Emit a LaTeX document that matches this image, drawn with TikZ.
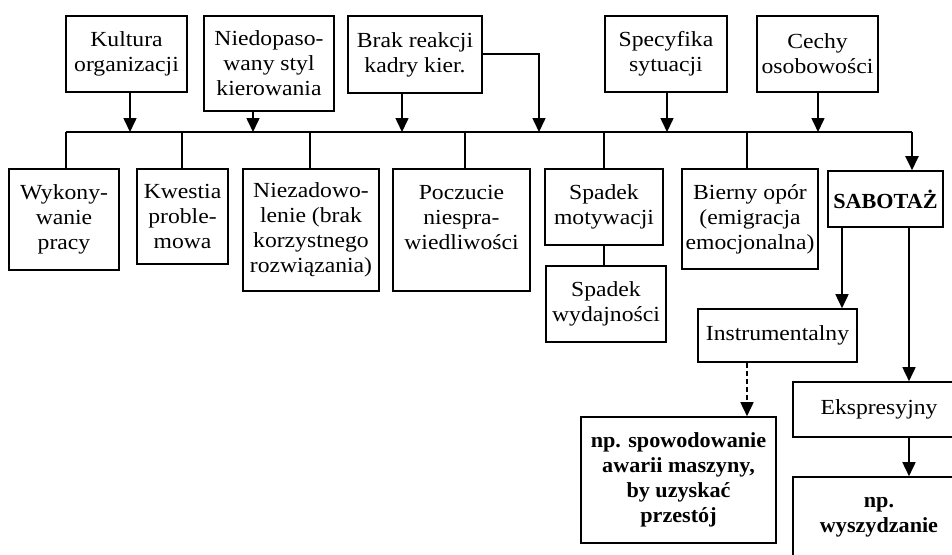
\documentclass[tikz,border=0pt]{standalone}
\usepackage{fontspec}
\setmainfont{Liberation Serif}[FakeStretch=1.1, BoldFeatures={FakeStretch=1.03}]
\usetikzlibrary{arrows.meta}
\begin{document}
\begin{tikzpicture}[x=1pt,y=-1pt,
  box/.style={draw, line width=1.6pt, inner sep=0pt, align=center,
    font=\fontsize{21.5}{25}\selectfont},
  boldbox/.style={box, font=\fontsize{21.5}{25}\selectfont\bfseries},
  link/.style={line width=1.3pt},
  arr/.style={line width=1.6pt, -{Triangle[width=13pt,length=14pt]}},
  dasharr/.style={arr, dash pattern=on 5pt off 3pt}]
\useasboundingbox (0,0) rectangle (952,554);
\clip (0,0) rectangle (952,554);

% causes (top row)
\node[box, minimum width=121pt, minimum height=76pt] (kult) at (126.5,54) {Kultura\\organizacji};
\node[box, minimum width=130pt, minimum height=95pt] (nied) at (269,63.5) {Niedopaso-\\wany styl\\kierowania};
\node[box, minimum width=134pt, minimum height=77pt] (brak) at (415,54.5) {Brak reakcji\\kadry kier.};
\node[box, minimum width=122pt, minimum height=76pt] (spec) at (666,54) {Specyfika\\sytuacji};
\node[box, minimum width=121pt, minimum height=76pt] (cech) at (817.5,54) {Cechy\\osobowości};

% stages (bottom row)
\node[box, minimum width=110pt, minimum height=101pt] (wyk) at (64,219.5) {Wykony-\\wanie\\pracy};
\node[box, minimum width=91pt, minimum height=95pt] (kwe) at (182.5,216.5) {Kwestia\\proble-\\mowa};
\node[box, minimum width=136pt, minimum height=122pt] (niez) at (311,230) {Niezadowo-\\lenie (brak\\korzystnego\\rozwiązania)};
\node[box, line width=2.4pt, minimum width=137pt, minimum height=122pt] (pocz) at (461.5,230) {Poczucie\\niespra-\\wiedliwości\\\mbox{}};
\node[box, minimum width=118pt, minimum height=76pt] (spmot) at (604,207) {Spadek\\motywacji};
\node[box, minimum width=120pt, minimum height=76pt] (spwyd) at (606,304) {Spadek\\wydajności};
\node[box, minimum width=136pt, minimum height=100pt] (bier) at (750,219) {Bierny opór\\(emigracja\\emocjonalna)};
\node[boldbox, minimum width=115pt, minimum height=56pt] (sab) at (885.5,199) {SABOTAŻ};

% kinds of sabotage
\node[box, minimum width=159pt, minimum height=53pt] (instr) at (777.5,335.5) {Instrumentalny};
\node[boldbox, minimum width=195pt, minimum height=126pt] (spow) at (678.5,480) {np. spowodowanie\\awarii maszyny,\\by uzyskać\\przestój};
\node[box, minimum width=172pt, minimum height=55pt] (eksp) at (879,409.5) {Ekspresyjny};
\node[boldbox, minimum width=172pt, minimum height=100pt] (wysz) at (879,527) {np.\\wyszydzanie\\\mbox{}};

% main bus
\coordinate (busL) at (66,132);
\coordinate (busR) at (912,132);
\draw[line width=1.8pt] (busL) -- (busR);

% drops from the bus
\coordinate (j2) at (182,132);
\coordinate (j3) at (310,132);
\coordinate (j4) at (465,132);
\coordinate (j5) at (604,132);
\coordinate (j6) at (747,132);
\draw[link, line width=1.8pt] (busL) -- (busL |- wyk.north);
\draw[link] (j2) -- (j2 |- kwe.north);
\draw[link] (j3) -- (j3 |- niez.north);
\draw[link] (j4) -- (j4 |- pocz.north);
\draw[link] (j5) -- (j5 |- spmot.north);
\draw[link] (j6) -- (j6 |- bier.north);
\draw[link] (spmot.south) -- (spmot.south |- spwyd.north);

% causes feeding the bus
\draw[arr] ([xshift=3.5pt]kult.south) -- ([xshift=3.5pt]kult.south |- busL);
\draw[arr] ([xshift=-16pt]nied.south) -- ([xshift=-16pt]nied.south |- busL);
\draw[arr] ([xshift=-13pt]brak.south) -- ([xshift=-13pt]brak.south |- busL);
\coordinate (bend) at (539,54);
\draw[arr] (brak.east |- bend) -- (bend) -- (bend |- busL);
\draw[arr] ([xshift=1pt]spec.south) -- ([xshift=1pt]spec.south |- busL);
\draw[arr] ([xshift=0.5pt]cech.south) -- ([xshift=0.5pt]cech.south |- busL);
\draw[arr, line width=2.2pt] (busR) -- (busR |- sab.north);

% sabotage branches
\draw[arr] ([xshift=-43.5pt]sab.south) -- ([xshift=-43.5pt]sab.south |- instr.north);
\draw[arr] ([xshift=23.5pt]sab.south) -- ([xshift=23.5pt]sab.south |- eksp.north);
\draw[dasharr] ([xshift=-30.5pt]instr.south) -- ([xshift=-30.5pt]instr.south |- spow.north);
\draw[arr] ([xshift=30pt]eksp.south) -- ([xshift=30pt]eksp.south |- wysz.north);
\end{tikzpicture}
\end{document}
